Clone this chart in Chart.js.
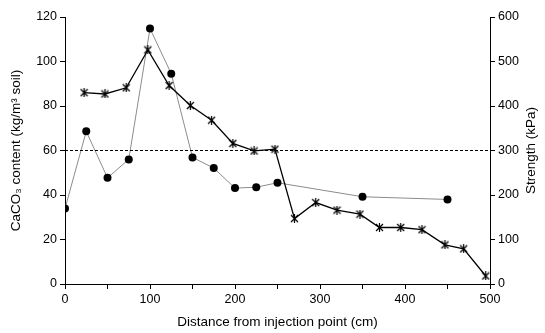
<!DOCTYPE html>
<html>
<head>
<meta charset="utf-8">
<script src="https://cdn.jsdelivr.net/npm/chart.js@4"></script>
<style>
  html, body { margin: 0; padding: 0; background: #fff; }
  #wrap { width: 545px; height: 333px; }
</style>
</head>
<body>
<div id="wrap"><canvas id="chart" width="545" height="333"></canvas></div>
<script>
// CaCO3 content (left axis) - filled circles
const caco3X = [0, 25, 50, 75, 100, 125, 150, 175, 200, 225, 250, 350, 450];
const caco3Y = [33.9, 68.6, 47.7, 56, 114.8, 94.5, 56.9, 52.1, 43.1, 43.5, 45.5, 39.2, 38];

// Strength (right axis) - asterisk markers
const strengthX = [22.5, 47, 72, 97.5, 122.5, 147.5, 172.5, 197.5, 222.5, 247, 270, 295, 320, 347, 370, 395, 420, 447, 469, 495];
const strengthY = [430, 427, 441, 526, 446, 401, 368, 316, 299, 303, 147, 183, 166, 157, 127, 127, 122, 88, 79, 18];

// reference level (dashed), on left axis
const refX = [0, 500];
const refY = [60, 60];

const xTicks = [0, 100, 200, 300, 400, 500];

function pairs(xs, ys) {
    return xs.map((x, i) => ({ x: x, y: ys[i] }));
}

// asterisk marker like the spreadsheet "*" symbol
function makeStar() {
    const c = document.createElement("canvas");
    c.width = 9;
    c.height = 9;
    const g = c.getContext("2d");
    g.strokeStyle = "#000";
    g.lineWidth = 1.2;
    g.beginPath();
    g.moveTo(1, 1); g.lineTo(8, 8);
    g.moveTo(8, 1); g.lineTo(1, 8);
    g.moveTo(4.5, 0); g.lineTo(4.5, 9);
    g.stroke();
    return c;
}

const family = "'Liberation Sans', Arial, sans-serif";
const tickFont = { family: family, size: 12.5 };
const titleFont = { family: family, size: 13.5 };

// right axis title reads bottom-to-top like the left one
const rightTitle = {
    id: "rightTitle",
    afterDraw(chart) {
        const ctx = chart.ctx;
        const area = chart.chartArea;
        ctx.save();
        ctx.translate(531, (area.top + area.bottom) / 2);
        ctx.rotate(-Math.PI / 2);
        ctx.fillStyle = "#000";
        ctx.font = titleFont.size + "px " + family;
        ctx.textAlign = "center";
        ctx.textBaseline = "middle";
        ctx.fillText("Strength (kPa)", 0, 0);
        ctx.restore();
    },
};

new Chart(document.getElementById("chart"), {
    type: "line",
    data: {
        datasets: [
            {
                label: "Reference",
                data: pairs(refX, refY),
                yAxisID: "y",
                borderColor: "#000",
                borderWidth: 1,
                borderDash: [3, 2],
                pointRadius: 0,
                fill: false,
            },
            {
                label: "Strength",
                data: pairs(strengthX, strengthY),
                yAxisID: "y2",
                borderColor: "#000",
                borderWidth: 1.3,
                pointStyle: makeStar(),
                pointRadius: 4,
                fill: false,
            },
            {
                label: "CaCO3",
                data: pairs(caco3X, caco3Y),
                yAxisID: "y",
                borderColor: "#8c8c8c",
                borderWidth: 1,
                pointStyle: "circle",
                pointRadius: 4,
                pointBackgroundColor: "#000",
                pointBorderColor: "#000",
                pointBorderWidth: 0,
                fill: false,
            },
        ],
    },
    options: {
        responsive: false,
        animation: false,
        layout: { padding: { top: 17, left: 0, right: 0, bottom: 0 } },
        plugins: {
            legend: { display: false },
            tooltip: { enabled: false },
        },
        scales: {
            x: {
                type: "linear",
                min: 0,
                max: 500,
                afterFit: (s) => { s.height = 49; },
                ticks: {
                    stepSize: 50,
                    color: "#000",
                    font: tickFont,
                    padding: 3,
                    maxRotation: 0,
                    callback: (v) => (xTicks.includes(v) ? v : ""),
                },
                grid: { drawOnChartArea: false, tickLength: 5, color: "#000" },
                border: { color: "#000", width: 1 },
                title: {
                    display: true,
                    text: "Distance from injection point (cm)",
                    color: "#000",
                    font: titleFont,
                    padding: { top: 0, bottom: 3 },
                },
            },
            y: {
                position: "left",
                min: 0,
                max: 120,
                afterFit: (s) => { s.width = 65; },
                ticks: { stepSize: 20, color: "#000", font: tickFont, padding: 3 },
                grid: { drawOnChartArea: false, tickLength: 5, color: "#000" },
                border: { color: "#000", width: 1 },
                title: {
                    display: true,
                    text: "CaCO₃ content (kg/m³ soil)",
                    color: "#000",
                    font: titleFont,
                    padding: { top: 8, bottom: 0 },
                },
            },
            y2: {
                position: "right",
                min: 0,
                max: 600,
                afterFit: (s) => { s.width = 55; },
                ticks: { stepSize: 100, color: "#000", font: tickFont, padding: 3 },
                grid: { drawOnChartArea: false, tickLength: 5, color: "#000" },
                border: { color: "#000", width: 1 },
                title: { display: false },
            },
        },
    },
    plugins: [rightTitle],
});
</script>
</body>
</html>
